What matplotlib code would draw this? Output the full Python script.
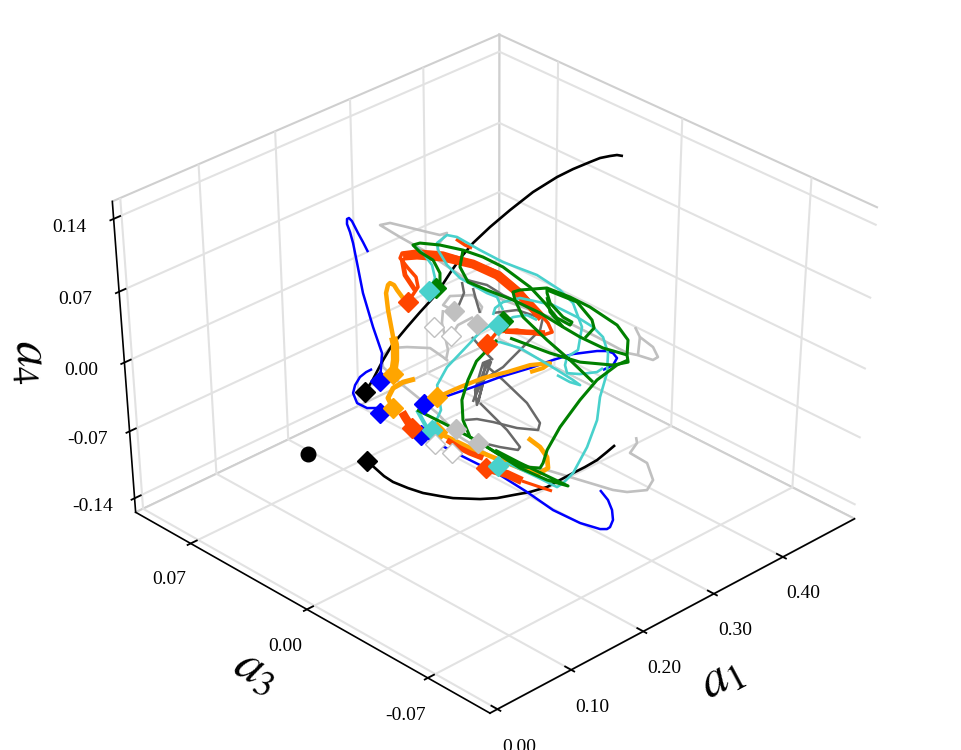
import matplotlib
matplotlib.use("Agg")
import numpy as np
import matplotlib.pyplot as plt

plt.rcParams["font.family"] = "Liberation Serif"
plt.rcParams["mathtext.fontset"] = "stix"

# Modal coefficients (a1, a3, a4) along each trajectory, stored in units of 1e-4.
UNIT = 1e-4
black_up = ([1415,1524,1698,1861,2065,2239,2407,2553,2693,2840,2988,3196,3430,3690,3941,4098,4257,4349,4431,4486,4523],
            [294,299,315,325,324,322,318,322,328,332,331,320,303,280,247,221,190,171,148,131,112],
            [-157,-90,25,129,239,330,416,501,587,672,751,849,952,1062,1154,1202,1245,1270,1282,1288,1282])
black_low = ([1054,1073,1093,1125,1198,1277,1381,1462,1648,1774,1903,2040,2188,2318,2448,2565,2688,2802,2897],
             [133,95,52,14,-42,-94,-148,-189,-266,-311,-348,-388,-424,-444,-465,-484,-502,-511,-518],
             [-578,-621,-670,-706,-743,-773,-792,-804,-810,-804,-786,-767,-737,-694,-651,-615,-572,-523,-481])
blue_a = ([1581,1747,1824,1938,2039,2139,2177,2200,2227,2246,2251,2240,2229,2215,2196],
          [277,335,418,523,593,663,696,723,734,731,716,694,672,638,601],
          [-90,80,239,446,599,751,818,867,898,904,885,849,812,757,696])
blue_b = ([1407,1413,1342,1299,1325,1382,1461,1531,1589],
          [205,225,252,291,325,337,342,336,326],
          [-286,-255,-255,-225,-164,-115,-66,-36,-17])
blue_c = ([1767,1974,2207,2452,2713,2920,3094,3280,3351,3382,3384,3317,3219],
          [104,58,6,-46,-109,-154,-196,-256,-284,-305,-327,-332,-315],
          [-231,-182,-127,-66,-11,38,74,93,93,80,50,7,-23])
blue_d = ([1578,1745,1920,2019,2105,2226,2335,2384,2416,2476,2523,2549,2546],
          [42,-111,-267,-380,-493,-597,-666,-685,-689,-681,-656,-622,-578],
          [-420,-542,-664,-767,-877,-956,-993,-993,-981,-938,-877,-816,-755])
orange_a = ([1711,1801,1912,2023,2101,2159,2184,2201,2195,2194],
            [257,283,340,415,459,472,471,455,435,401],
            [-48,38,178,343,446,495,507,495,465,416])
orange_thick = ([1711,1801,1882,1912],[257,283,317,340],[-48,38,129,178])
orange_b = ([1526,1545,1635,1738,1839],[180,217,225,211,185],[-255,-194,-133,-97,-78])
orange_c = ([1897,2115,2326,2529,2730,2882,2805,2692],
            [83,42,-1,-54,-102,-153,-145,-118],
            [-188,-127,-72,-36,7,19,-11,-36])
orange_d = ([1707,1854,2001,2124,2214,2298,2350,2355,2319],
            [4,-123,-233,-325,-373,-384,-357,-315,-261],
            [-401,-499,-572,-633,-651,-621,-554,-493,-438])
red_a = ([2208,2360,2400,2393,2390,2432,2549,2722,2885,3017,3066,3078,3085,3065,2985,2828,2675,2539],
         [378,384,412,455,499,505,468,391,288,189,95,3,-57,-89,-70,13,64,64],
         [391,483,544,599,660,690,702,690,635,568,465,343,263,208,190,221,208,135])
red_band = ([2422,2527,2700,2874,2985,3031,3055,3070],
            [495,459,382,284,192,109,33,-29],
            [672,678,666,623,556,465,373,294])
red_side = ([2404,2333,2323],[494,447,386],[660,556,465])
red_under = ([2737,2873,3010],[44,-14,-71],[215,208,202])
red_spur = ([2890,2921,2954],[387,349,322],[776,739,721])
red_c = ([1568,1562,1552],[146,127,83],[-279,-310,-377])
red_d = ([1735,1783,1827,1892],[-41,-95,-134,-182],[-450,-499,-529,-560])
red_e = ([1859,1975,2043],[-212,-284,-341],[-621,-658,-700])
red_tail = ([2043,2122,2201],[-341,-394,-447],[-700,-731,-761])
turq_a = ([2416,2529,2579,2580,2553],[345,357,395,447,493],[458,538,617,690,739])
turq_b = ([2703,2734,2848,2908,3000,3098,3268,3349,3371,3304,3151,3035],
          [412,431,421,389,296,205,82,-16,-81,-160,-201,-186],
          [708,751,800,788,708,635,556,465,385,239,99,56])
turq_c = ([2703,2685,2706,2816,2865,2837],[412,353,288,179,143,97],[708,617,538,446,422,343])
turq_d = ([2739,2791,2881,3023,3218,3323,3382,3398,3347,3231,3051,2905,2688,2448,2323,2258,2171,2035,1955],
          [113,123,115,77,-30,-124,-191,-241,-291,-333,-368,-412,-445,-465,-460,-452,-374,-259,-241],
          [312,355,391,416,373,300,239,178,80,-42,-188,-328,-493,-651,-712,-737,-676,-590,-609])
turq_e = ([2720,2870,2980,3023],[77,53,19,-20],[251,300,312,282])
turq_f = ([2593,2642,2751,2817,2894,2953,2975,2920,2866],
          [52,33,-36,-106,-188,-255,-286,-251,-199],
          [147,147,111,50,-23,-84,-115,-97,-54])
turq_g = ([3035,2977,2948,3035,3166,3230],[-186,-199,-223,-261,-303,-311],[56,7,-42,-48,-36,-11])
turq_h = ([1683,1855,1963,2131,2424,2555,2715],[23,43,110,123,114,111,92],[-389,-267,-115,-5,141,208,269])
turq_i = ([1685,1658],[109,41],[-267,-377])
green_a = ([2482,2489,2592,2613,2564,2553,2613,2744,2880,2983,3071,3153,3172,3176,3230,3260,3224,3208,3241,3268],
           [332,312,355,403,457,493,478,418,343,272,194,74,-4,-71,-123,-121,-85,-18,13,25],
           [477,452,568,647,696,739,751,739,708,666,605,483,385,294,251,269,300,385,446,477])
green_b = ([2735,2936,3100,3317,3440,3471,3559,3563,3469,3382,3268,3066,3006,2976,2941,2986,3040,3083],
           [14,-130,-234,-332,-367,-348,-317,-253,-137,-59,25,95,110,86,26,-93,-202,-315],
           [172,80,25,7,25,68,160,251,361,422,477,465,452,403,300,159,37,-97])
green_c = ([2880,2766,2741,2832,2962,3083,3170,3236,3339,3471],
           [343,313,257,186,92,-12,-107,-177,-266,-348],
           [709,605,514,465,404,325,239,178,111,69])
green_d = ([3257,3404,3413,3384,3266],[20,-90,-172,-196,-193],[465,392,282,233,172])
green_e = ([3219,3159,3170],[4,-38,-107],[422,331,239])
green_f = ([2632,2345,2209,2058,1957,1914,1980,2029,2126,2241,2290,2389,2605,2894,3123,3346,3451],
           [46,44,36,8,-40,-98,-168,-222,-312,-362,-359,-341,-325,-319,-321,-343,-362],
           [160,50,-84,-206,-328,-432,-493,-541,-615,-621,-590,-511,-371,-206,-84,8,38])
green_g = ([1685,1799,1914,1980,2100,2226,2342,2239,2127,2020],
           [110,8,-98,-168,-306,-408,-480,-391,-295,-197],
           [-267,-346,-432,-493,-621,-694,-730,-663,-590,-511])
gray_a = ([2125,2354,2474,2408,2205,2137,2270,2422,2470,2299,2155],
          [-27,10,20,33,-6,-45,-19,27,13,-12,-44],
          [-218,-41,38,20,-145,-236,-127,20,26,-102,-224])
gray_b = ([2408,2457,2502,2486,2433,2296,2158,2061,1971],
          [33,-61,-179,-260,-271,-208,-128,-77,-46],
          [20,-84,-224,-346,-389,-377,-340,-322,-328])
gray_c = ([2169,2186,2214,2214,2183,2072,1973],[-49,-99,-185,-259,-260,-204,-148],[-224,-285,-389,-493,-511,-493,-468])
gray_d = ([2699,2653,2535],[274,243,228],[514,447,361])
gray_e = ([2745,2860,2919,2996,3082,2991,2828,2615,2528,2316,2167],
          [264,198,131,66,-30,-51,-44,-35,-32,-5,-22],
          [526,495,434,386,300,221,142,38,-5,-84,-188])
gray_f = ([2744,2691,2658],[230,185,154],[477,386,325])
gray_g = ([2750,2936,3047],[118,58,-16],[325,343,300])
gray_h = ([2471,2478,2495],[122,62,12],[178,99,38])
silver_a = ([2686,2730,2859,2798,2723,2608,2510,2428,2504,2597,2733,2891,3132,3208,3356,3482,3542,3628,3679,3698,3660,3679],
            [405,424,426,441,483,550,606,629,547,454,282,120,-49,-92,-224,-343,-376,-431,-438,-402,-343,-307],
            [691,739,813,800,819,849,874,861,788,709,544,404,300,282,178,81,69,38,56,117,178,239])
silver_tick = ([3660,3549],[-343,-378],[178,69])
silver_b = ([2485,2440,2538,2706,2705,2658],[230,274,275,214,162,154],[337,373,428,434,361,325])
silver_c = ([2328,2437,2587],[182,188,164],[184,251,300])
silver_d = ([2412,2335,2231,2162],[263,237,159,142],[343,264,99,38])
silver_e = ([1678,1725,1831,1957,2114,2157,2171],[301,326,324,279,213,157,134],[-5,56,111,117,111,56,32])
silver_f = ([1678,1712,1811,1843,1980,2280,2459,2639,2727,2879,2976,3026,2960,3064,3089],
            [301,218,47,-70,-225,-386,-500,-613,-657,-708,-702,-647,-577,-574,-558],
            [-5,-102,-285,-432,-572,-633,-694,-755,-767,-755,-694,-590,-529,-468,-432])
silver_g = ([1789,1892],[-76,-181],[-468,-560])

# Reference state (circle) and the start states of each case (diamonds).
state_black = ([675,1415,1054],[312,294,133],[-535,-157,-578])
state_blue = ([1581,1407,1768,1578],[277,205,104,42],[-90,-285,-230,-419])
state_orange = ([1711,1526,1898,1708],[257,181,84,5],[-47,-255,-188,-401])
state_red = ([2208,2539,1552,1859],[378,65,83,-212],[392,136,-377,-621])
state_green = ([2482,2777],[332,72],[477,276])
state_turq = ([2416,2720,1683,1955],[345,77,23,-241],[459,251,-389,-608])
state_silver = ([2485,2577,1858,1938],[230,137,-41,-134],[337,258,-383,-468])
state_white = ([2256,2328,1628,1700],[250,182,-17,-84],[239,184,-474,-529])

a1_ticks = [0.0, 0.1, 0.2, 0.3, 0.4]
a3_ticks = [-0.07, 0.0, 0.07]
a4_ticks = [-0.14, -0.07, 0.0, 0.07, 0.14]

BLACK, BLUE, ORANGE, RED = "black", "#0000ff", "#ffa500", "#ff4500"
TURQ, GREEN, GRAY, SILVER = "#48d1cc", "#008000", "#696969", "#c0c0c0"

curves = [
    (silver_a, SILVER, 1.9), (silver_tick, SILVER, 1.9), (silver_b, SILVER, 1.9), (silver_c, SILVER, 1.9),
    (silver_d, SILVER, 1.9), (silver_e, SILVER, 1.9), (silver_f, SILVER, 1.9), (silver_g, SILVER, 2.5),
    (gray_a, GRAY, 1.8), (gray_b, GRAY, 1.8), (gray_c, GRAY, 1.8), (gray_d, GRAY, 1.8),
    (gray_e, GRAY, 1.8), (gray_f, GRAY, 1.8), (gray_g, GRAY, 1.8), (gray_h, GRAY, 1.8),
    (black_up, BLACK, 1.9), (black_low, BLACK, 1.9),
    (blue_a, BLUE, 1.8), (blue_b, BLUE, 1.8), (blue_c, BLUE, 1.8), (blue_d, BLUE, 1.8),
    (orange_a, ORANGE, 3.2), (orange_thick, ORANGE, 6.0), (orange_b, ORANGE, 3.6),
    (orange_c, ORANGE, 3.0), (orange_d, ORANGE, 3.4),
    (red_a, RED, 2.5), (red_band, RED, 6.5), (red_side, RED, 3.5), (red_under, RED, 4.0), (red_spur, RED, 2.5),
    (red_c, RED, 6.0), (red_d, RED, 4.0), (red_e, RED, 6.0), (red_tail, RED, 2.2),
    (turq_a, TURQ, 1.9), (turq_b, TURQ, 1.9), (turq_c, TURQ, 1.9), (turq_d, TURQ, 1.9), (turq_e, TURQ, 1.9),
    (turq_f, TURQ, 1.9), (turq_g, TURQ, 1.9), (turq_h, TURQ, 1.9), (turq_i, TURQ, 3.0),
    (green_a, GREEN, 2.2), (green_b, GREEN, 2.2), (green_c, GREEN, 2.2), (green_d, GREEN, 2.2),
    (green_e, GREEN, 2.2), (green_f, GREEN, 2.2), (green_g, GREEN, 2.2),
]
states = [
    (state_black, BLACK), (state_blue, BLUE), (state_orange, ORANGE), (state_red, RED),
    (state_green, GREEN), (state_turq, TURQ), (state_silver, SILVER), (state_white, "white"),
]

fig = plt.figure(figsize=(9.61, 7.5), dpi=100)
ax = fig.add_subplot(projection="3d", computed_zorder=False)
ax.set_xlim(-0.0100, 0.5061, view_margin=0)
ax.set_ylim(-0.1049, 0.1041, view_margin=0)
ax.set_zlim(-0.1549, 0.1565, view_margin=0)
ax.view_init(38.7358, -134.1405)
ax.set_box_aspect((0.9952, 1, 0.9569))
ax.set_proj_type("persp", focal_length=1.0635)

# The axes box is stretched wider than tall, so the usual square layout is switched off.
sx, sy, ox, oy = 4702.41, 3723.24, 494.74, 364.92
ax.set_position([(ox - .095 * sx) / 961, (750 - (oy + .095 * sy)) / 750, .185 * sx / 961, .185 * sy / 750])
ax.apply_aspect = lambda position=None: None

z = 2
for series, color, width in curves:
    ax.plot(*(np.array(series) * UNIT), color=color, lw=width, solid_joinstyle="round",
            solid_capstyle="butt", zorder=z)
    z += 1
for series, color in states:
    a1, a3, a4 = np.array(series) * UNIT
    if series is state_black:
        ax.plot(a1[:1], a3[:1], a4[:1], ls="", marker="o", ms=10.5, color=color, zorder=z)
        a1, a3, a4 = a1[1:], a3[1:], a4[1:]
    edge = SILVER if color == "white" else color
    ax.plot(a1, a3, a4, ls="", marker="D", ms=10.4, mfc=color, mec=edge, mew=1, zorder=z)
    z += 1

ax.set_xticks(a1_ticks); ax.set_xticklabels([f"{v:.2f}" for v in a1_ticks])
ax.set_yticks(a3_ticks); ax.set_yticklabels([f"{v:.2f}" for v in a3_ticks])
ax.set_zticks(a4_ticks); ax.set_zticklabels([f"{v:.2f}" for v in a4_ticks])
ax.tick_params(labelsize=14, pad=9)

for axis in (ax.xaxis, ax.yaxis, ax.zaxis):
    axis.set_pane_color("white")
    axis.pane.set_edgecolor("#cfcfcf")
    axis.pane.set_linewidth(1.5)
    axis.line.set_linewidth(1.2)
    axis._axinfo["grid"].update(color="#e2e2e2", linewidth=1.5)
    axis._axinfo["tick"].update(inward_factor=0.1, outward_factor=0.2, linewidth={True: 1.3, False: 1.3})

label_style = dict(fontsize=37, ha="center", va="center")
fig.text(722 / 961, 1 - 678 / 750, r"$a_1$", rotation=28, **label_style)
fig.text(256 / 961, 1 - 672 / 750, r"$a_3$", rotation=-30, **label_style)
fig.text(30 / 961, 1 - 362 / 750, r"$a_4$", rotation=-86, **label_style)

fig.savefig("out.png", dpi=100)
